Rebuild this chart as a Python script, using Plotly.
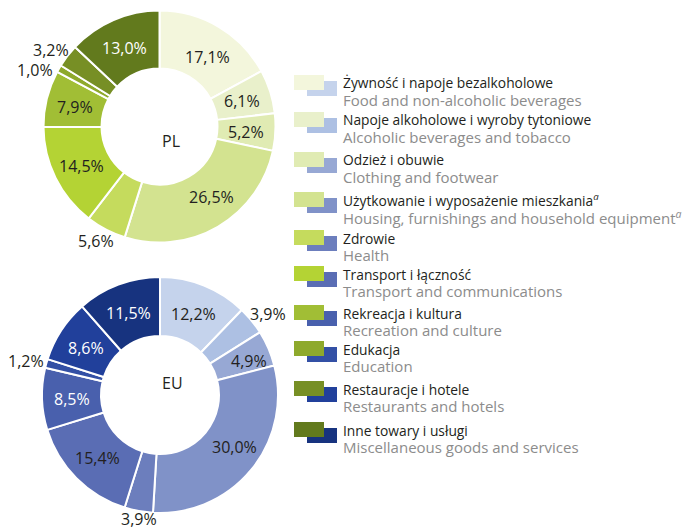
import math
import plotly.graph_objects as go

W, H = 691, 530
OFF = 8  # margines body strony html

# dane
kategorie_pl = [
    "Żywność i napoje bezalkoholowe",
    "Napoje alkoholowe i wyroby tytoniowe",
    "Odzież i obuwie",
    "Użytkowanie i wyposażenie mieszkania<sup><i>a</i></sup>",
    "Zdrowie",
    "Transport i łączność",
    "Rekreacja i kultura",
    "Edukacja",
    "Restauracje i hotele",
    "Inne towary i usługi",
]
kategorie_en = [
    "Food and non-alcoholic beverages",
    "Alcoholic beverages and tobacco",
    "Clothing and footwear",
    "Housing, furnishings and household equipment<sup><i>a</i></sup>",
    "Health",
    "Transport and communications",
    "Recreation and culture",
    "Education",
    "Restaurants and hotels",
    "Miscellaneous goods and services",
]
pl_values = [17.1, 6.1, 5.2, 26.5, 5.6, 14.5, 7.9, 1.0, 3.2, 13.0]
eu_values = [12.2, 3.9, 4.9, 30.0, 3.9, 15.4, 8.5, 1.2, 8.6, 11.5]

pl_colors = ["#f3f6dc", "#e9f0cb", "#e0ebb3", "#d3e390", "#c5db5d",
             "#b4d334", "#a1be35", "#8ea92c", "#778f25", "#627a1d"]
eu_colors = ["#c5d3ec", "#adc0e3", "#97a8d4", "#8092c8", "#6c7ebd",
             "#5a6db4", "#4960ad", "#3350a5", "#21409b", "#17337f"]

pl_outside = [4, 7, 8]
eu_outside = [1, 4, 7]
pl_white = [9]
eu_white = [6, 8, 9]
# drobne przesuniecia etykiet (px)
pl_nudge = {0: (4, 4), 3: (8, -6), 7: (-6, 6)}
eu_nudge = {2: (8, 0), 3: (6, -5), 4: (4, -5)}

FONT = "Open Sans"
DARK = "#231f20"


def fmt(v):
    return f"{v:.1f}%".replace(".", ",")


def px_x(x):
    return (x - OFF) / W


def px_y(y):
    return 1 - (y - OFF) / H


fig = go.Figure()


def donut(values, colors, outside, white, nudge, cx, cy, r, name):
    fig.add_trace(go.Pie(
        values=values,
        labels=[f"{name}{i}" for i in range(len(values))],
        textinfo="none",
        marker=dict(colors=colors, line=dict(color="white", width=2)),
        hole=0.5,
        sort=False,
        direction="clockwise",
        rotation=0,
        showlegend=False,
        hoverinfo="skip",
        domain=dict(x=[px_x(cx - r), px_x(cx + r)], y=[px_y(cy + r), px_y(cy - r)]),
    ))
    fig.add_annotation(x=px_x(cx), y=px_y(cy + 1), xref="paper", yref="paper",
                       text=name, showarrow=False,
                       font=dict(family=FONT, size=16, color=DARK))
    total = sum(values)
    cum = 0
    for i, v in enumerate(values):
        theta = 2 * math.pi * (cum + v / 2) / total
        cum += v
        s, c = math.sin(theta), math.cos(theta)
        if i in outside:
            rr = r + 4
            x = cx + rr * s + 17 * s
            y = cy - rr * c - 8 * c
        else:
            rr = r * 0.75
            x = cx + rr * s
            y = cy - rr * c
        dx, dy = nudge.get(i, (0, 0))
        x += dx
        y += dy + 1
        fig.add_annotation(x=px_x(x), y=px_y(y), xref="paper", yref="paper",
                           text=fmt(v), showarrow=False,
                           xanchor="center", yanchor="middle",
                           font=dict(family=FONT, size=16,
                                     color="white" if i in white else DARK))


donut(pl_values, pl_colors, pl_outside, pl_white, pl_nudge, 159.5, 126.5, 116, "PL")
donut(eu_values, eu_colors, eu_outside, eu_white, eu_nudge, 160, 395, 118, "EU")

# legenda
row_tops = [75, 112, 152, 192, 230, 266, 305, 341, 381, 422]
for i, top in enumerate(row_tops):
    fig.add_shape(type="rect", xref="paper", yref="paper",
                  x0=px_x(307), x1=px_x(337), y0=px_y(top + 6), y1=px_y(top + 21),
                  fillcolor=eu_colors[i], line_width=0)
    fig.add_shape(type="rect", xref="paper", yref="paper",
                  x0=px_x(294), x1=px_x(324), y0=px_y(top), y1=px_y(top + 15),
                  fillcolor=pl_colors[i], line_width=0)
    fig.add_annotation(x=px_x(341), y=px_y(top + 8), xref="paper", yref="paper",
                       xanchor="left", yanchor="middle", showarrow=False,
                       text=kategorie_pl[i],
                       font=dict(family=FONT, size=13.8, color=DARK))
    fig.add_annotation(x=px_x(341), y=px_y(top + 25), xref="paper", yref="paper",
                       xanchor="left", yanchor="middle", showarrow=False,
                       text=kategorie_en[i],
                       font=dict(family=FONT, size=15, color="#8c8c8c"))

fig.update_layout(
    width=W, height=H,
    margin=dict(l=0, r=0, t=0, b=0),
    paper_bgcolor="white", plot_bgcolor="white",
)

fig.write_html("out.html")
